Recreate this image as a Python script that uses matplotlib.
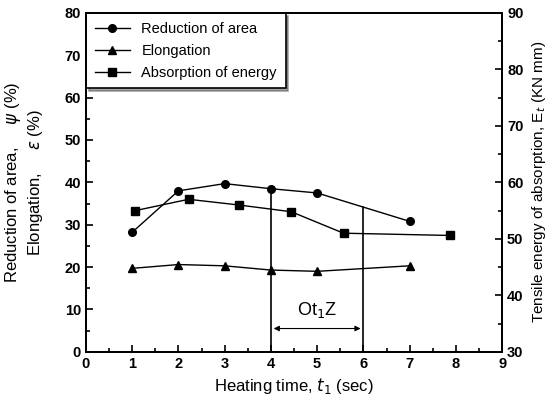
import matplotlib.pyplot as plt
from matplotlib.ticker import MultipleLocator
import numpy as np

plt.rcParams['font.family'] = ['Liberation Sans', 'DejaVu Sans']

# Reduction of area (circles) and elongation (triangles), left axis
t_ra = [1, 2, 3, 4, 5, 7]
reduction = [28.2, 38.0, 39.7, 38.5, 37.5, 30.8]
t_el = [1, 2, 3, 4, 5, 7]
elongation = [19.7, 20.6, 20.3, 19.3, 19.0, 20.3]

# Absorption of energy (squares), right axis
t_ab = [1.07, 2.22, 3.3, 4.44, 5.57, 7.87]
absorption = [55.0, 57.0, 56.0, 54.8, 51.0, 50.6]

# Ot1Z window
ot_start, ot_end = 4, 6

fig = plt.figure(figsize=(5.47, 4.03), dpi=100)
ax = fig.add_axes([0.157, 0.127, 0.761, 0.841])
ax2 = ax.twinx()

l1, = ax.plot(t_ra, reduction, 'k-o', lw=1, ms=5.5, label='Reduction of area')
l2, = ax.plot(t_el, elongation, 'k-^', lw=1, ms=5.5, label='Elongation')
l3, = ax2.plot(t_ab, absorption, 'k-s', lw=1, ms=5.5, label='Absorption of energy')

# vertical lines up to reduction-of-area curve
for xv in (ot_start, ot_end):
    ax.plot([xv, xv], [0, np.interp(xv, t_ra, reduction)], 'k-', lw=1.2)
ax.annotate('', xy=(ot_start, 5.5), xytext=(ot_end, 5.5),
            arrowprops=dict(arrowstyle='<|-|>', color='k', lw=0.8, mutation_scale=8))
ax.text(5, 7.5, 'Ot$_1$Z', ha='center', va='bottom', fontsize=13)

ax.set_xlim(0, 9)
ax.set_ylim(0, 80)
ax2.set_ylim(30, 90)
ax.xaxis.set_major_locator(MultipleLocator(1))
ax.xaxis.set_minor_locator(MultipleLocator(0.5))
ax.yaxis.set_major_locator(MultipleLocator(10))
ax.yaxis.set_minor_locator(MultipleLocator(5))
ax2.yaxis.set_major_locator(MultipleLocator(10))
ax2.yaxis.set_minor_locator(MultipleLocator(5))

ax.tick_params(which='both', direction='in', top=False, width=1.2)
ax.tick_params(which='major', length=5, labelsize=10.5)
ax.tick_params(which='minor', length=3)
ax2.tick_params(which='both', direction='in', width=1.2)
ax2.tick_params(which='major', length=5, labelsize=10.5)
ax2.tick_params(which='minor', length=3)
for a in (ax, ax2):
    for lab in a.get_xticklabels() + a.get_yticklabels():
        lab.set_fontweight('bold')
    for s in a.spines.values():
        s.set_linewidth(1.4)

ax.set_xlabel('Heating time, $t_1$ (sec)', fontsize=12)
ax.set_ylabel('Reduction of area,     $\\psi$ (%)\nElongation,     $\\varepsilon$ (%)',
              fontsize=12, labelpad=14)
ax2.set_ylabel('Tensile energy of absorption, E$_t$ (KN mm)', fontsize=11, labelpad=5)

leg = ax.legend(handles=[l1, l2, l3], loc='upper left', bbox_to_anchor=(0, 1),
                borderaxespad=0, shadow=True, fancybox=False, fontsize=10.5,
                handlelength=2.4, labelspacing=0.55, borderpad=0.6)
leg.get_frame().set_edgecolor('k')
leg.get_frame().set_linewidth(1.2)

fig.savefig('out.png', dpi=100)
